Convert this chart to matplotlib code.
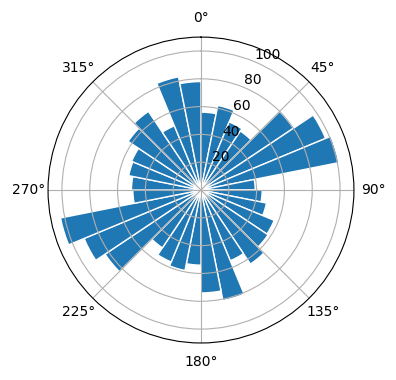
import numpy as np
import matplotlib
matplotlib.use('Agg')
import matplotlib.pyplot as plt

# 32 direction bins, clockwise from north
n_bins = 32
counts = [56, 62, 53, 51, 80, 97, 101, 39,
          44, 48, 57, 58, 64, 55, 81, 74,
          54, 59, 56, 50, 83, 91, 103, 49,
          50, 53, 54, 63, 68, 50, 83, 78]

edges = np.linspace(0, 2 * np.pi, n_bins + 1)
width = 2 * np.pi / n_bins

fig = plt.figure(figsize=(3.96, 3.8), dpi=100)
ax = fig.add_axes([0.1212, 0.0974, 0.7727, 0.805], projection='polar')
ax.set_theta_zero_location('N')
ax.set_theta_direction(-1)
ax.bar(edges[:-1], counts, width=width, align='edge', color='C0', edgecolor='white', linewidth=1)
ax.set_ylim(0, 110)
ax.set_yticks([20, 40, 60, 80, 100])

fig.savefig('out.png', dpi=100)
